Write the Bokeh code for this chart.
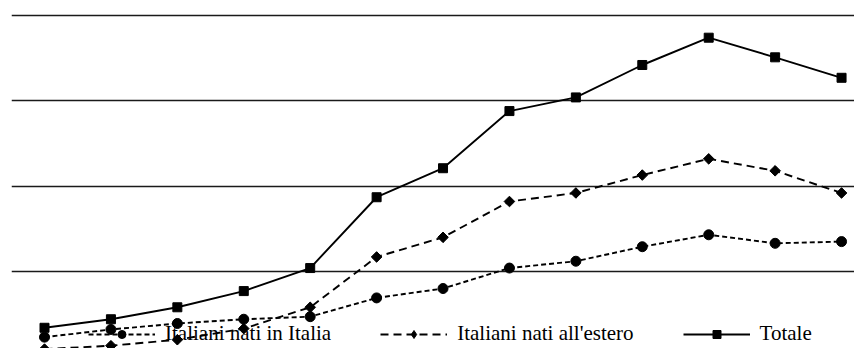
from bokeh.plotting import figure
from bokeh.models import Range1d, FixedTicker, Legend, LegendItem, ColumnDataSource
from bokeh.embed import file_html
from bokeh.resources import INLINE
import numpy as np

# ---- data (x = period index, no labels shown) ----
periodi = list(range(13))
nati_in_italia = [23, 32, 39, 44, 47, 69, 80, 104, 112, 129, 143, 133, 135]
nati_all_estero = [9, 13, 20, 33, 58, 117, 140, 182, 192, 213, 232, 218, 192]
totale = [34, 44, 58, 77, 104, 187, 221, 288, 304, 342, 374, 351, 327]
grid_ticks = [0, 100, 200, 300, 400]

labels = ["Italiani nati in Italia", "Italiani nati all'estero", "Totale"]

src = ColumnDataSource(dict(x=periodi, it=nati_in_italia, es=nati_all_estero, tot=totale))

p = figure(width=854, height=348, output_backend="svg", toolbar_location=None,
           x_range=Range1d(-0.497, 12.195), y_range=Range1d(9.7, 417.6))
p.min_border = 0
p.min_border_left = 11
p.outline_line_color = None
p.background_fill_color = "white"
p.border_fill_color = "white"
p.xaxis.visible = False
p.yaxis.visible = False
p.xgrid.visible = False
p.ygrid.ticker = FixedTicker(ticks=grid_ticks)
p.ygrid.grid_line_color = "#1a1a1a"
p.ygrid.grid_line_width = 1.6
p.ygrid.grid_line_alpha = 1.0

# series
l1 = p.line("x", "it", source=src, line_color="black", line_width=1.9, line_dash="5 3")
m1 = p.scatter("x", "it", source=src, marker="circle", size=10, fill_color="black", line_color="black")

l2 = p.line("x", "es", source=src, line_color="black", line_width=1.9, line_dash="8 5")
# diamond glyph (used by the legend), covered by the rotated-square markers
m2_leg = p.scatter("x", "es", source=src, marker="diamond", size=9, fill_color="black", line_color="black")
m2 = p.scatter("x", "es", source=src, marker="square", angle=np.pi / 4, size=7.5,
               fill_color="black", line_color="black")

l3 = p.line("x", "tot", source=src, line_color="black", line_width=1.9)
m3 = p.scatter("x", "tot", source=src, marker="square", size=9, fill_color="black", line_color="black")

legend = Legend(items=[LegendItem(label=labels[0], renderers=[l1, m1]),
                       LegendItem(label=labels[1], renderers=[l2, m2_leg]),
                       LegendItem(label=labels[2], renderers=[l3, m3])],
                orientation="horizontal", location=(77, 2))
legend.label_text_font = "Liberation Serif"
legend.label_text_font_size = "21px"
legend.label_text_color = "black"
legend.glyph_width = 67
legend.glyph_height = 20
legend.label_height = 20
legend.label_standoff = 10
legend.spacing = 49
legend.padding = 0
legend.margin = 0
legend.border_line_alpha = 0
legend.background_fill_alpha = 0
p.add_layout(legend, "center")

open("out.html", "w").write(file_html(p, INLINE))
